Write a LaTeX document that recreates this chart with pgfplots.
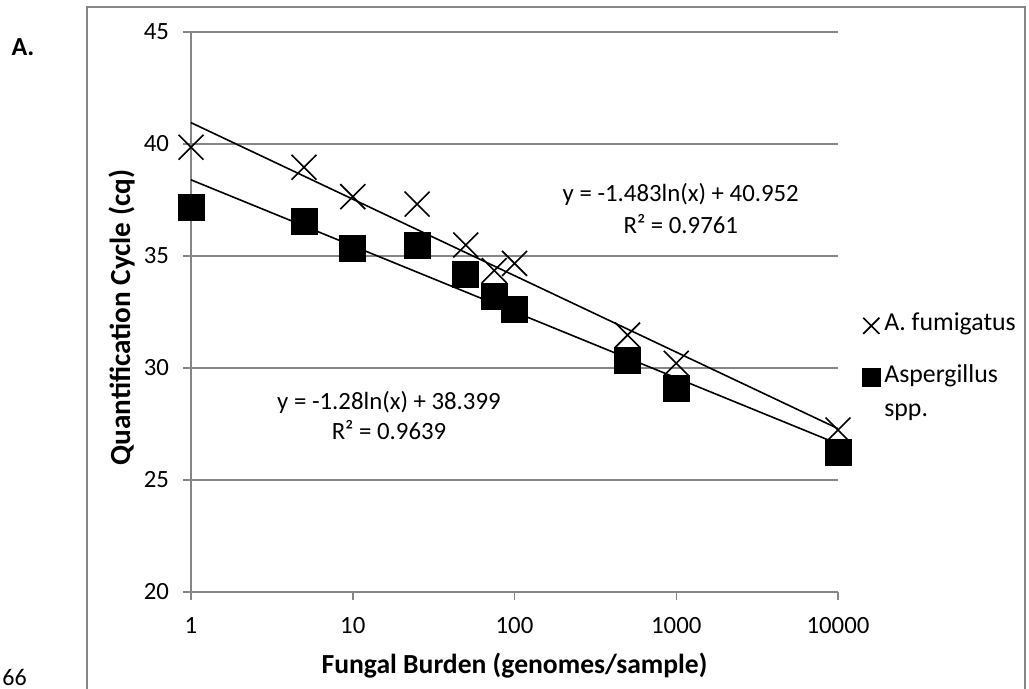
\documentclass[border=0pt]{standalone}
\usepackage{fontspec}
\setmainfont{Carlito}
\usepackage{pgfplots}
\pgfplotsset{compat=1.18}
\definecolor{gridgray}{RGB}{134,134,134}
\begin{document}
\begin{tikzpicture}
\useasboundingbox (0,0) rectangle (514.5pt,344.5pt);
\draw[gridgray, line width=0.75pt] (43.5pt,-2pt) -- (43.5pt,341pt) -- (512.5pt,341pt) -- (512.5pt,-2pt);
\node[font=\fontsize{13}{15}\selectfont\bfseries] at (11.5pt,321pt) {A.};
\node[anchor=north west, inner sep=0pt, font=\fontsize{12}{14}\selectfont] at (1pt,10pt) {66};
\begin{axis}[
  at={(95.5pt,48.5pt)}, anchor=south west,
  scale only axis, width=323.5pt, height=280pt,
  xmode=log, log basis x=10, xmin=1, xmax=10000, ymin=20, ymax=45,
  xtick={1,10,100,1000,10000}, xticklabels={1,10,100,1000,10000},
  ytick={20,25,30,35,40,45},
  xminorticks=false,
  axis lines*=left,
  axis line style={gridgray, line width=0.75pt},
  ymajorgrids, grid style={gridgray, line width=0.75pt},
  tick align=outside, major tick length=4pt,
  tick style={gridgray, line width=0.75pt},
  tick label style={font=\fontsize{12.4}{14}\selectfont},
  yticklabel style={xshift=-3.5pt},
  xticklabel style={yshift=-5pt},
  /pgf/number format/assume math mode=true,
  xlabel={Fungal Burden (genomes/sample)},
  ylabel={Quantification Cycle (cq)},
  xlabel style={font=\fontsize{13.8}{16}\selectfont\bfseries, at={(axis description cs:0.5,-0.132)}, anchor=center},
  ylabel style={font=\fontsize{14.6}{16}\selectfont\bfseries, at={(axis description cs:-0.1066,0.490)}, anchor=center},
  clip=false,
  legend style={at={(axis description cs:1.037,0.506)}, anchor=north west, draw=none, fill=none,
    font=\fontsize{12.9}{14}\selectfont, cells={anchor=base west}, row sep=10.5pt, inner sep=0pt},
]
\addplot[only marks, black, mark=x, mark size=8.8pt, mark options={line width=0.8pt},
  legend image code/.code={\draw[black, mark=x, mark size=5.7pt, mark options={line width=0.8pt}] plot coordinates {(0pt,0.25em)};}]
  coordinates {(1,39.85) (5,38.96) (10,37.65) (25,37.32) (50,35.49) (75,34.35) (100,34.67) (500,31.47) (1000,30.21) (10000,27.23)};
\addlegendentry{A. fumigatus}
\addplot[only marks, black, mark=square*, mark size=6.5pt,
  legend image code/.code={\draw[black, mark=square*, mark size=4.5pt] plot coordinates {(0pt,0.25em)};}]
  coordinates {(1,37.16) (5,36.53) (10,35.34) (25,35.46) (50,34.18) (75,33.18) (100,32.62) (500,30.33) (1000,29.09) (10000,26.22)};
\addlegendentry{\begin{tabular}[t]{@{}l@{}}Aspergillus\\[3pt]spp.\end{tabular}}
\addplot[black, line width=0.8pt, no marks, forget plot] coordinates {(1,40.952) (10000,27.293)};
\addplot[black, line width=0.8pt, no marks, forget plot] coordinates {(1,38.399) (10000,26.610)};
\node[align=center, font=\fontsize{12.4}{16}\selectfont] at (axis description cs:0.757,0.684) {y = -1.483ln(x) + 40.952\\R² = 0.9761};
\node[align=center, font=\fontsize{12.4}{15}\selectfont] at (axis description cs:0.306,0.316) {y = -1.28ln(x) + 38.399\\R² = 0.9639};
\end{axis}
\end{tikzpicture}
\end{document}
